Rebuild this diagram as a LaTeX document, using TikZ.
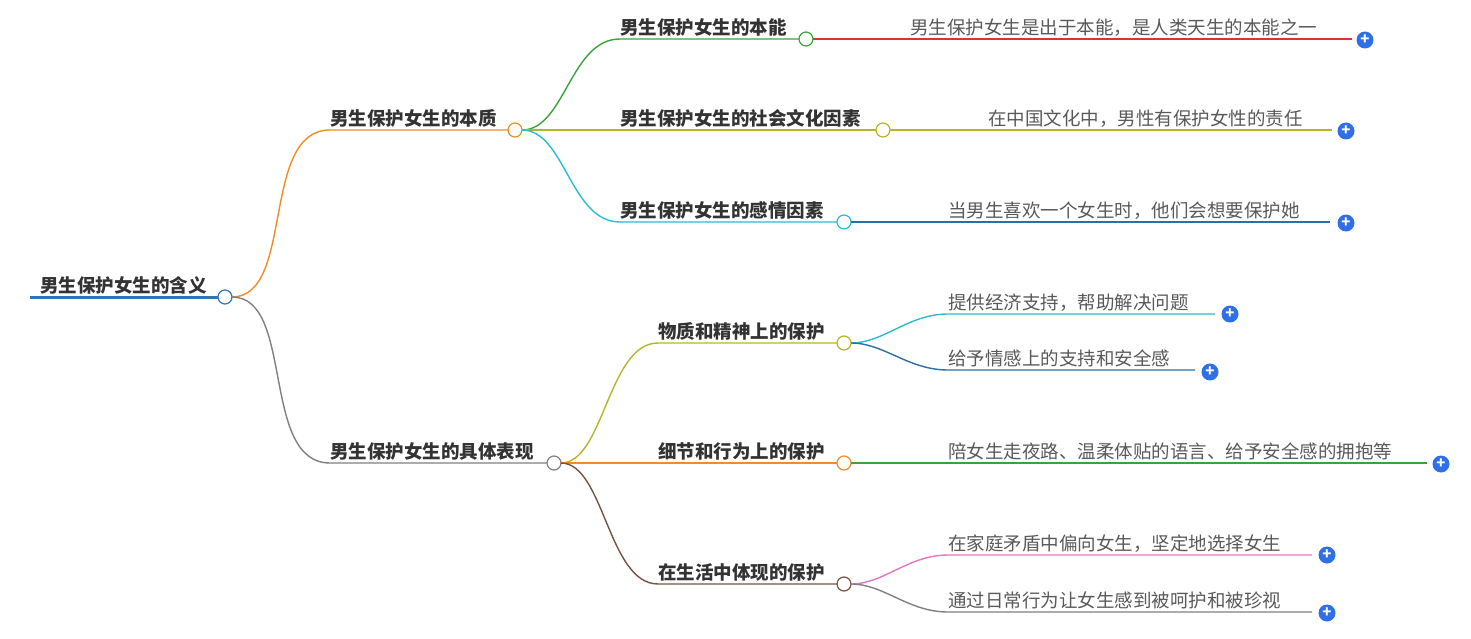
\documentclass[tikz,border=0pt]{standalone}
\usepackage{fontspec}
\setmainfont{Noto Sans CJK SC}
\definecolor{cRoot}{HTML}{2E75B6}
\definecolor{cOrange}{HTML}{F28C28}
\definecolor{cGray}{HTML}{808080}
\definecolor{cGreen}{HTML}{3BA33B}
\definecolor{cOlive}{HTML}{B5B52A}
\definecolor{cCyan}{HTML}{2BBCCF}
\definecolor{cRed}{HTML}{D9352B}
\definecolor{cBlue}{HTML}{2B6FA8}
\definecolor{cBrown}{HTML}{7A5040}
\definecolor{cPink}{HTML}{E377C2}
\definecolor{cPlus}{HTML}{2F6FE8}
\begin{document}
\begin{tikzpicture}[x=1pt,y=-1pt,
every node/.style={inner sep=0pt,outer sep=0pt},
hub/.style={circle,draw,fill=white,minimum size=14pt,line width=1.2pt},
lab/.style={anchor=south west,font=\fontsize{18.5}{20}\selectfont\bfseries,text=black!80,yshift=3pt},
leaf/.style={anchor=south west,font=\fontsize{18.5}{20}\selectfont,text=black!65,yshift=3pt},
plus/.style={circle,fill=cPlus,minimum size=17pt,text=white,font=\bfseries\fontsize{15}{15}\selectfont},
link/.style={line width=1.4pt}]
\useasboundingbox (0,0) rectangle (1471,639);

%root
\coordinate (r0) at (30,297);
\node[lab,xshift=10pt] at (r0) {男生保护女生的含义};
\draw[cRoot,line width=3pt] (r0) -- (218,297);
\node[hub,draw=cRoot] (root) at (225,297) {};

%first branch
\coordinate (s0) at (330,130);
\node[lab] at (s0) {男生保护女生的本质};
\draw[link,cOrange] (root) .. controls +(70,0) and +(-70,0) .. (s0) -- (508,130);
\node[hub,draw=cOrange] (ess) at (515,130) {};

\coordinate (e1) at (620,39);
\node[lab] at (e1) {男生保护女生的本能};
\draw[link,cGreen] (ess) .. controls +(50,0) and +(-50,0) .. (e1) -- (799,39);
\node[hub,draw=cGreen] (inst) at (806,39) {};
\coordinate (l1) at (910,39);
\node[leaf] at (l1) {男生保护女生是出于本能，是人类天生的本能之一};
\draw[link,cRed] (inst) -- (1352,39);
\node[plus] (p1) at (1365,40) {+};

\coordinate (e2) at (620,130);
\node[lab] at (e2) {男生保护女生的社会文化因素};
\draw[link,cOlive] (ess) -- (876,130);
\node[hub,draw=cOlive] (cult) at (883,130) {};
\coordinate (l2) at (988,130);
\node[leaf] at (l2) {在中国文化中，男性有保护女性的责任};
\draw[link,cOlive] (cult) -- (1332,130);
\node[plus] (p2) at (1346,131) {+};

\coordinate (e3) at (620,222);
\node[lab] at (e3) {男生保护女生的感情因素};
\draw[link,cCyan] (ess) .. controls +(50,0) and +(-50,0) .. (e3) -- (837,222);
\node[hub,draw=cCyan] (emo) at (844,222) {};
\coordinate (l3) at (948,222);
\node[leaf] at (l3) {当男生喜欢一个女生时，他们会想要保护她};
\draw[link,cBlue] (emo) -- (1330,222);
\node[plus] (p3) at (1346,223) {+};

%second branch
\coordinate (s1) at (330,463);
\node[lab] at (s1) {男生保护女生的具体表现};
\draw[link,cGray] (root) .. controls +(70,0) and +(-70,0) .. (s1) -- (547,463);
\node[hub,draw=cGray] (show) at (554,463) {};

\coordinate (f1) at (658,343);
\node[lab] at (f1) {物质和精神上的保护};
\draw[link,cOlive] (show) .. controls +(50,0) and +(-50,0) .. (f1) -- (837,343);
\node[hub,draw=cOlive] (mat) at (844,343) {};
\coordinate (m1) at (948,314);
\node[leaf] at (m1) {提供经济支持，帮助解决问题};
\draw[link,cCyan] (mat) .. controls +(40,0) and +(-40,0) .. (m1) -- (1215,314);
\node[plus] (p4) at (1230,314) {+};
\coordinate (m2) at (948,370);
\node[leaf] at (m2) {给予情感上的支持和安全感};
\draw[link,cBlue] (mat) .. controls +(40,0) and +(-40,0) .. (m2) -- (1195,370);
\node[plus] (p5) at (1210,372) {+};

\coordinate (f2) at (658,463);
\node[lab] at (f2) {细节和行为上的保护};
\draw[link,cOrange] (show) -- (837,463);
\node[hub,draw=cOrange] (det) at (844,463) {};
\coordinate (m3) at (948,463);
\node[leaf] at (m3) {陪女生走夜路、温柔体贴的语言、给予安全感的拥抱等};
\draw[link,cGreen] (det) -- (1427,463);
\node[plus] (p6) at (1441,464) {+};

\coordinate (f3) at (658,584);
\node[lab] at (f3) {在生活中体现的保护};
\draw[link,cBrown] (show) .. controls +(50,0) and +(-50,0) .. (f3) -- (837,584);
\node[hub,draw=cBrown] (life) at (844,584) {};
\coordinate (m4) at (948,555);
\node[leaf] at (m4) {在家庭矛盾中偏向女生，坚定地选择女生};
\draw[link,cPink] (life) .. controls +(40,0) and +(-40,0) .. (m4) -- (1312,555);
\node[plus] (p7) at (1327,555) {+};
\coordinate (m5) at (948,612);
\node[leaf] at (m5) {通过日常行为让女生感到被呵护和被珍视};
\draw[link,cGray] (life) .. controls +(40,0) and +(-40,0) .. (m5) -- (1312,612);
\node[plus] (p8) at (1327,613) {+};
\end{tikzpicture}
\end{document}
